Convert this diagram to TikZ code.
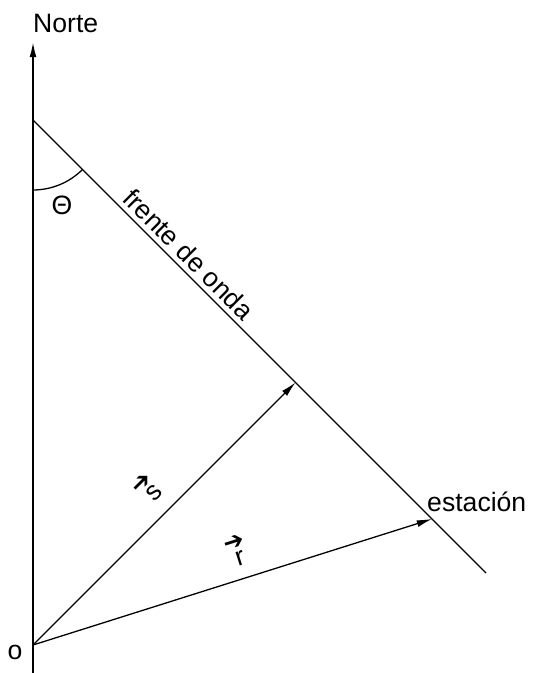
\documentclass[tikz,border=0pt]{standalone}
\usepackage{fontspec}
\setmainfont{Liberation Sans}
\newfontfamily\arrfont{DejaVu Sans}
\usetikzlibrary{arrows.meta,positioning,calc}
\newcommand{\vecl}[1]{\begin{tabular}{@{}c@{}}\hspace*{-3pt}{\arrfont\fontsize{21}{21}\selectfont ➔}\\[-12pt]#1\end{tabular}}

\begin{document}
\begin{tikzpicture}[x=0.03cm,y=0.03cm,
      f/.style={line width=1.1pt},
      a/.style={-{Latex[length=13pt,width=6pt]},line width=1.1pt},
      t/.style={font=\fontsize{22.7}{26}\selectfont,inner sep=0pt}]
      \useasboundingbox (0,0) rectangle (532,673);
      \coordinate (bot) at (33,0);
      \coordinate (N) at (33,631);
      \coordinate (O) at (33,28);
      \coordinate (T) at (33,553);
      \coordinate (end) at (486,100);
      \coordinate (st) at (432,154);
      \coordinate (F) at (295.5,290.5);
      \draw[a,line width=1.5pt] (bot) -- (N);
      \node[t,anchor=base west] (norte) at (33,640) {Norte};
      \draw[f] (T) -- node[t,sloped,above=4pt,pos=0.32] (fr) {frente de onda} (end);
      \draw[f] ($(T)+(0,-70)$) arc[start angle=-90,end angle=-45,radius=70];
      \node[t] (th) at (62,468) {Θ};
      \draw[a] (O) -- node[t,sloped,above=4pt,pos=0.52] (s) {\vecl{s}} (F);
      \draw[a] (O) -- node[t,sloped,above=3pt,pos=0.535] (r) {\vecl{r}} (st);
      \node[t,anchor=base west] (est) at (427,161) {estación};
      \node[t] (o) at (15,21) {o};
    \end{tikzpicture}
\end{document}
